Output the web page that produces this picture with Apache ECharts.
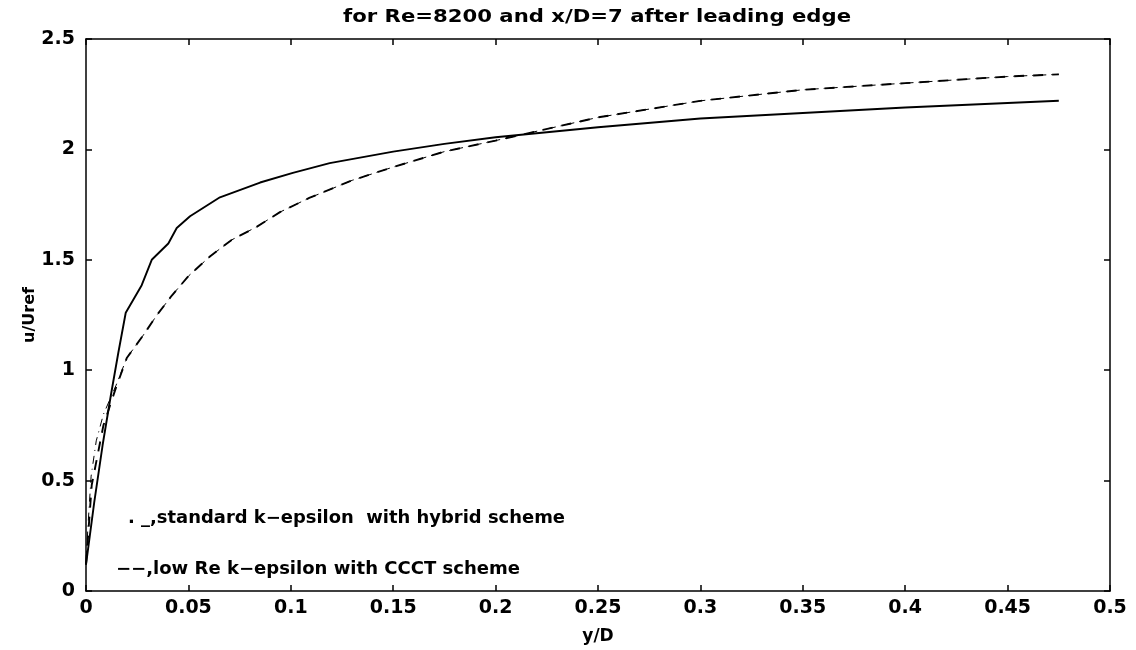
<!DOCTYPE html>
<html><head><meta charset="utf-8">
<script src="https://cdn.jsdelivr.net/npm/echarts@6/dist/echarts.min.js"></script>
<style>html,body{margin:0;padding:0;background:#fff}#c{width:1136px;height:650px}</style>
</head><body><div id="c"></div>
<script>
const titleText = 'for Re=8200 and x/D=7 after leading edge';
const xName = 'y/D';
const yName = 'u/Uref';
const xTicks = [0, 0.05, 0.1, 0.15, 0.2, 0.25, 0.3, 0.35, 0.4, 0.45, 0.5];
const yTicks = [0, 0.5, 1, 1.5, 2, 2.5];

const solidX = [0, 0.004, 0.0081, 0.0122, 0.0158, 0.0194, 0.0272, 0.0321, 0.0402, 0.0443, 0.0508, 0.0654, 0.085, 0.101, 0.119, 0.15, 0.175, 0.2, 0.25, 0.3, 0.35, 0.4, 0.45, 0.475];
const solidY = [0.12, 0.40, 0.66, 0.89, 1.08, 1.26, 1.385, 1.50, 1.574, 1.644, 1.697, 1.783, 1.85, 1.894, 1.938, 1.99, 2.025, 2.055, 2.10, 2.14, 2.165, 2.19, 2.21, 2.22];

const lowReX = [0, 0.0028, 0.0085, 0.0146, 0.0199, 0.028, 0.0345, 0.0418, 0.05, 0.0605, 0.0711, 0.0833, 0.0947, 0.109, 0.13, 0.15, 0.175, 0.2, 0.25, 0.3, 0.35, 0.4, 0.45, 0.475];
const lowReY = [0.12, 0.48, 0.75, 0.92, 1.055, 1.159, 1.248, 1.337, 1.426, 1.515, 1.59, 1.649, 1.716, 1.78, 1.86, 1.92, 1.99, 2.04, 2.145, 2.22, 2.27, 2.30, 2.33, 2.34];

const stdX = [0, 0.001, 0.0025, 0.005, 0.0085, 0.0146, 0.0199, 0.028, 0.0345, 0.0418, 0.05, 0.0605, 0.0711, 0.0833, 0.0947, 0.109, 0.13, 0.15, 0.175, 0.2, 0.25, 0.3, 0.35, 0.4, 0.45, 0.475];
const stdY = [0.12, 0.30, 0.52, 0.68, 0.80, 0.93, 1.055, 1.159, 1.248, 1.337, 1.426, 1.515, 1.59, 1.649, 1.716, 1.78, 1.86, 1.92, 1.99, 2.04, 2.145, 2.22, 2.27, 2.30, 2.33, 2.34];

const note1 = '. _,standard k\u2212epsilon  with hybrid scheme';
const note2 = '\u2212\u2212,low Re k\u2212epsilon with CCCT scheme';

const zip = (a, b) => a.map((v, i) => [v, b[i]]);
const fmt = v => String(+v.toFixed(2));
const FONT = 'DejaVu Sans';
const black = '#000';

// measure text so the stretched (scanned) lettering can be matched in width
const mctx = document.createElement('canvas').getContext('2d');
function widthOf(txt, size) { mctx.font = 'bold ' + size + 'px "' + FONT + '"'; return mctx.measureText(txt).width; }
function stretchedText(txt, size, left, cy, targetW, anchorCenter) {
  const w = widthOf(txt, size);
  const sx = targetW / w;
  return {
    type: 'text', x: anchorCenter ? left - targetW / 2 : left, y: cy, scaleX: sx, scaleY: 1,
    style: { text: txt, fontFamily: FONT, fontWeight: 'bold', fontSize: size, fill: black, verticalAlign: 'middle' }
  };
}

const axisBase = {
  type: 'value',
  axisLine: { show: true, onZero: false, lineStyle: { color: black, width: 1.5 } },
  axisTick: { show: true, inside: true, length: 6, lineStyle: { color: black, width: 1.5 } },
  splitLine: { show: false }
};
const labelStyle = { formatter: fmt, fontFamily: FONT, fontWeight: 'bold', fontSize: 19, color: black };

const chart = echarts.init(document.getElementById('c'));
chart.setOption({
  animation: false,
  backgroundColor: '#fff',
  grid: { left: 86, right: 26, top: 39, bottom: 50 },
  xAxis: [
    Object.assign({}, axisBase, { min: xTicks[0], max: xTicks[xTicks.length - 1], interval: 0.05, position: 'bottom',
      name: xName, nameLocation: 'middle', nameGap: 37, nameTextStyle: { fontFamily: FONT, fontWeight: 'bold', fontSize: 17, color: black },
      axisLabel: Object.assign({ margin: 8 }, labelStyle) }),
    Object.assign({}, axisBase, { min: xTicks[0], max: xTicks[xTicks.length - 1], interval: 0.05, position: 'top', axisLabel: { show: false } })
  ],
  yAxis: [
    Object.assign({}, axisBase, { min: yTicks[0], max: yTicks[yTicks.length - 1], interval: 0.5, position: 'left',
      name: yName, nameLocation: 'middle', nameGap: 48, nameMoveOverlap: false, nameRotate: 90, nameTextStyle: { fontFamily: FONT, fontWeight: 'bold', fontSize: 16, color: black },
      axisLabel: Object.assign({ margin: 11 }, labelStyle) }),
    Object.assign({}, axisBase, { min: yTicks[0], max: yTicks[yTicks.length - 1], interval: 0.5, position: 'right', axisLabel: { show: false } })
  ],
  series: [
    { type: 'line', data: zip(stdX, stdY), showSymbol: false, lineStyle: { color: black, width: 1, type: [1, 5, 8, 5] }, z: 2 },
    { type: 'line', data: zip(lowReX, lowReY), showSymbol: false, lineStyle: { color: black, width: 1.9, type: [10, 9] }, z: 3 },
    { type: 'line', data: zip(solidX, solidY), showSymbol: false, lineStyle: { color: black, width: 1.9 }, z: 4 }
  ],
  graphic: [
    stretchedText(titleText, 17, 597, 18, 508, true),
    stretchedText(note1, 17, 128, 519, 437, false),
    stretchedText(note2, 17, 116, 570, 404, false)
  ]
});
</script></body></html>
